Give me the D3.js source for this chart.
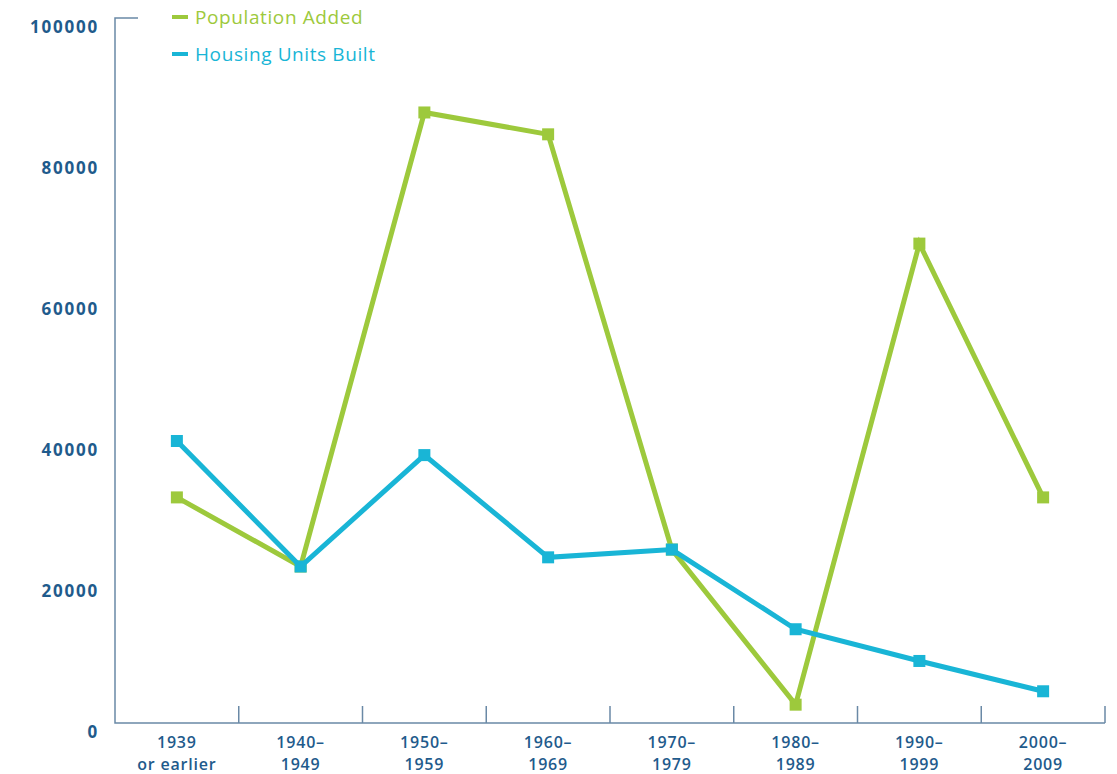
<!DOCTYPE html>
<html>
<head>
<meta charset="utf-8">
<script src="https://cdn.jsdelivr.net/npm/d3@7"></script>
<style>
  body { margin: 0; background: #fff; }
  text { font-family: "Open Sans", Lato, sans-serif; }
</style>
</head>
<body>
<div id="chart"></div>
<script>
// decades (two-line labels)
var decades = ["1939|or earlier", "1940\u2013|1949", "1950\u2013|1959", "1960\u2013|1969",
               "1970\u2013|1979", "1980\u2013|1989", "1990\u2013|1999", "2000\u2013|2009"];
var populationAdded = [32000, 22200, 86600, 83500, 24600, 2600, 68000, 32000];
var housingBuilt = [40000, 22200, 38000, 23500, 24600, 13300, 8800, 4500];
var yTicks = [0, 20000, 40000, 60000, 80000, 100000];

var series = [
  {name: "Population Added", values: populationAdded, color: "#9dc93c"},
  {name: "Housing Units Built", values: housingBuilt, color: "#19b5d6"}
];

var width = 1117, height = 774;
var margin = {top: 18, right: 12, bottom: 51, left: 115};
var axisColor = "#6a89a6", labelColor = "#1f5b8c";

var svg = d3.select("#chart").append("svg")
    .attr("width", width)
    .attr("height", height);

var x = d3.scaleBand().domain(decades).range([margin.left, width - margin.right]);
var y = d3.scaleLinear().domain([0, 100000]).range([height - margin.bottom, margin.top]);

// axis lines
svg.append("path")
    .attr("d", "M" + (margin.left + 23) + "," + y(100000) + "H" + margin.left + "V" + y(0) + "H" + x.range()[1])
    .attr("fill", "none")
    .attr("stroke", axisColor)
    .attr("stroke-width", 1.5);

// x ticks between bands
svg.selectAll(".xtick")
    .data(decades.slice(1).concat(["end"]))
    .enter().append("line")
    .attr("x1", function(d) { return d == "end" ? x.range()[1] : x(d); })
    .attr("x2", function(d) { return d == "end" ? x.range()[1] : x(d); })
    .attr("y1", y(0))
    .attr("y2", y(0) - 17)
    .attr("stroke", axisColor)
    .attr("stroke-width", 1.5);

// y labels
svg.selectAll(".ylab")
    .data(yTicks)
    .enter().append("text")
    .attr("x", 99)
    .attr("y", function(d) { return y(d) + 15; })
    .attr("text-anchor", "end")
    .attr("fill", labelColor)
    .attr("font-size", 17)
    .attr("font-weight", 700)
    .attr("letter-spacing", 1.8)
    .text(function(d) { return d; });

// x labels, one text per line
[0, 1].forEach(function(k) {
  svg.selectAll(null)
      .data(decades)
      .enter().append("text")
      .attr("x", function(d) { return x(d) + x.bandwidth() / 2; })
      .attr("y", k == 0 ? 748 : 770)
      .attr("text-anchor", "middle")
      .attr("fill", labelColor)
      .attr("font-size", 16)
      .attr("font-weight", 600)
      .attr("letter-spacing", 0.8)
      .text(function(d) { return d.split("|")[k]; });
});

var line = d3.line()
    .x(function(d, i) { return x(decades[i]) + x.bandwidth() / 2; })
    .y(function(d) { return y(d); });

series.forEach(function(s) {
  svg.append("path")
      .datum(s.values)
      .attr("d", line)
      .attr("fill", "none")
      .attr("stroke", s.color)
      .attr("stroke-width", 5)
      .attr("stroke-linejoin", "miter");

  svg.selectAll(null)
      .data(s.values)
      .enter().append("rect")
      .attr("x", function(d, i) { return x(decades[i]) + x.bandwidth() / 2 - 6; })
      .attr("y", function(d) { return y(d) - 6; })
      .attr("width", 12)
      .attr("height", 12)
      .attr("fill", s.color);
});

// legend
var legend = svg.selectAll(".legend")
    .data(series)
    .enter().append("g")
    .attr("transform", function(d, i) { return "translate(172," + (17 + i * 37) + ")"; });
legend.append("line")
    .attr("x1", 0).attr("x2", 16)
    .attr("stroke", function(d) { return d.color; })
    .attr("stroke-width", 4);
legend.append("text")
    .attr("x", 23)
    .attr("y", 7)
    .attr("fill", function(d) { return d.color; })
    .attr("font-size", 19)
    .attr("font-weight", 500)
    .attr("letter-spacing", 0.6)
    .text(function(d) { return d.name; });
</script>
</body>
</html>
